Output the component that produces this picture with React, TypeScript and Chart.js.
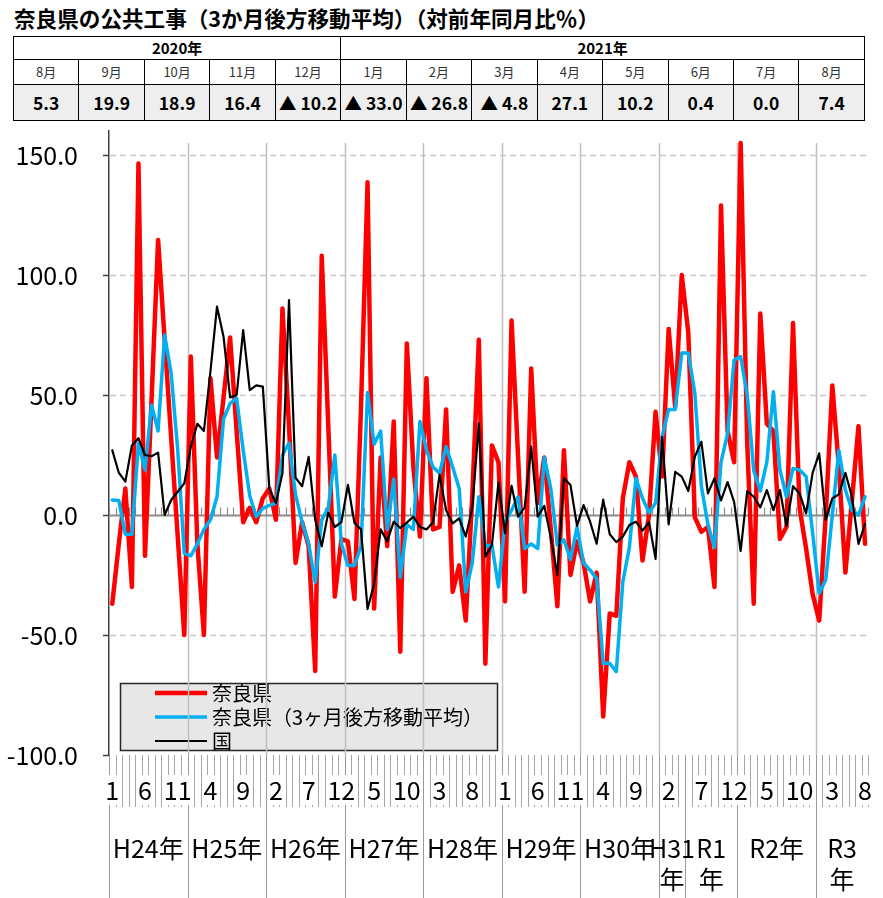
import React, { useEffect, useRef } from "react";
import { Chart, registerables } from "chart.js";
Chart.register(...registerables);

const JP = '"Noto Sans CJK JP", "Noto Sans", sans-serif';

// ---- table (top) ----
const TABLE_YEAR_LABELS = ["2020年", "2021年"];
const TABLE_YEAR_SPANS = [5, 8];
const TABLE_MONTHS = ["8月", "9月", "10月", "11月", "12月", "1月", "2月", "3月", "4月", "5月", "6月", "7月", "8月"];
const TABLE_VALUES = ["5.3", "19.9", "18.9", "16.4", "▲ 10.2", "▲ 33.0", "▲ 26.8", "▲ 4.8", "27.1", "10.2", "0.4", "0.0", "7.4"];

// ---- chart categories (2012/1 .. 2021/8) ----
const MONTH_LABELS = [
  "1", "2", "3", "4", "5", "6", "7", "8", "9", "10", "11", "12",
  "1", "2", "3", "4", "5", "6", "7", "8", "9", "10", "11", "12",
  "1", "2", "3", "4", "5", "6", "7", "8", "9", "10", "11", "12",
  "1", "2", "3", "4", "5", "6", "7", "8", "9", "10", "11", "12",
  "1", "2", "3", "4", "5", "6", "7", "8", "9", "10", "11", "12",
  "1", "2", "3", "4", "5", "6", "7", "8", "9", "10", "11", "12",
  "1", "2", "3", "4", "5", "6", "7", "8", "9", "10", "11", "12",
  "1", "2", "3", "4", "5", "6", "7", "8", "9", "10", "11", "12",
  "1", "2", "3", "4", "5", "6", "7", "8", "9", "10", "11", "12",
  "1", "2", "3", "4", "5", "6", "7", "8",
];

const YEAR_LABELS: string[][] = [
  ["H24年"], ["H25年"], ["H26年"], ["H27年"], ["H28年"], ["H29年"], ["H30年"],
  ["H31", "年"], ["R1", "年"], ["R2年"], ["R3", "年"],
];
const YEAR_STARTS = [0, 12, 24, 36, 48, 60, 72, 84, 88, 96, 108, 116];
const PLOT_YEAR_LINES = [12, 24, 36, 48, 60, 72, 84, 96, 108];

const Y_TICKS = [-100, -50, 0, 50, 100, 150];
const DASHED_GRID = [150, 100, 50, -50];

// ---- series ----
const NARA = [
  -37, -12, 11, -30, 146.5, -17, 48, 114.6, 73, 32, -9, -50,
  66, -12, -50, 57, 24, 49, 74, 35, -3, 3, -3, 7,
  11, -2, 86, 37, -20, -3, -13, -65, 108, 37, -34, -10,
  -11, -35, 45, 138.6, -39, 24, -13, 39, -57, 71.5, 20, -9,
  57, -6, -5, 44, -32, -21, -44, 8, 73, -62, 29, 22,
  -36, 81, 24, -32, 61, 5, 24, -6, -38, 27, -25, -11,
  -20, -36, -24, -84, -41, -42, 7, 22, 16, -19, 0, 43,
  16, 77.5, 45, 100, 76, -1, -7, -5, -30, 129, 35, 22,
  155, 30, -37, 84, 38, 35, -10, -5, 80, 3, -14, -33,
  -44, 0, 54, 20, -24, 6, 37, -12,
];
const NARA_MA3 = [
  6.25, 6, -8, -8, 30, 18.75, 45.8, 35, 75, 59, 27, -16,
  -17, -12, -6, -2, 7.6, 40, 46.5, 48.6, 27, 8, -0.7, 2.8,
  4, 5, 25, 30, 8.5, -3, -12, -28, -2, 3, 25, -12,
  -21, -21, -13, 51, 29.5, 35, -6, 15, -26, -4, -6, 39,
  27, 20, 17.4, 28.5, 20, 11, -32, -20, 7.6, -13, -12.5, -30,
  -3, 2, 7.6, -14, -12, -14, 24, 11, -12.5, -10.4, -18.5, -5,
  -20, -23, -26.5, -61.8, -61.8, -65.3, -27.8, -13.5, 15.3, 7, 1, 5,
  32.6, 44, 44, 67.5, 67.5, 50.7, 12, -4, -13.5, 22, 34, 64.6,
  66, 50, 18.5, 10, 22, 51.4, 18.75, 7.6, 19.4, 18.75, 16, -7.6,
  -32.6, -27, 0, 27, 10.4, 2, 0, 7.6,
];
const NATIONAL = [
  27, 17.6, 13.9, 29, 32, 25, 24.5, 26, 0, 6.25, 9.7, 13.2,
  28.5, 38, 35, 60, 86.8, 74.3, 49, 50, 77, 52, 54, 53.5,
  11, 5, 17.5, 89.5, 15.5, 12, 24.2, -2, -13, 1, -5, -3,
  12.6, -3.3, -6, -39.2, -28.7, -6, -11, -2.8, -5.4, -3.2, -0.7, -5,
  -6, -3, 16.7, 2, -3.5, -1.4, -9, 2.8, 38.2, -17.4, -12.5, 13.5,
  -7.6, 12.2, -0.7, 3.2, 28.5, -0.7, 3.8, -9.5, -25, 15.3, 12.5, -4.5,
  4.1, -2.8, -12, 6.4, -8, -11.3, -9, -4.2, -2.8, -6.5, -3, -18.3,
  32.6, -3.9, 18, 16, 10, 24.3, 30.5, 9, 15.3, 6.1, 13.7, 5.5,
  -15, 10, 7.6, 3.2, 10.4, 2, 10.4, -4.6, 12, 9, 0.7, 17.6,
  25.7, -2, 6.9, 8.6, 17.6, 7.6, -12, -3.75,
];

const SERIES_LABELS = ["奈良県", "奈良県（3ヶ月後方移動平均）", "国"];
const SERIES_COLORS = ["#ff0000", "#00b0f0", "#000000"];
const SERIES_WIDTHS = [4.5, 3.5, 2.2];

const CANVAS_TOP = 100;

function line(ctx: CanvasRenderingContext2D, x1: number, y1: number, x2: number, y2: number) {
  ctx.beginPath();
  ctx.moveTo(x1, y1);
  ctx.lineTo(x2, y2);
  ctx.stroke();
}

export default function App() {
  const ref = useRef<HTMLCanvasElement>(null);

  useEffect(() => {
    const canvas = ref.current;
    if (!canvas) return;
    const boundary = (x: any, k: number) => x.getPixelForValue(k - 0.5);

    const decor = {
      id: "decor",
      beforeDraw(chart: any) {
        const { ctx, chartArea: ca, scales } = chart;
        const x = scales.x;
        const bottom = chart.height;
        ctx.save();
        // comb of month ticks below the plot
        ctx.strokeStyle = "#a6a6a6";
        ctx.lineWidth = 1;
        for (let k = 0; k <= MONTH_LABELS.length; k++) {
          const px = Math.round(boundary(x, k)) + 0.5;
          line(ctx, px, ca.bottom, px, ca.bottom + 52);
        }
        // year separators in the label area
        ctx.strokeStyle = "#9a9a9a";
        for (let s = 0; s < YEAR_STARTS.length - 1; s++) {
          const px = Math.round(boundary(x, YEAR_STARTS[s])) + 0.5;
          line(ctx, px, ca.bottom, px, bottom);
        }
        ctx.restore();
      },
      beforeDatasetsDraw(chart: any) {
        const { ctx, chartArea: ca, scales } = chart;
        const x = scales.x;
        const y = scales.y;
        ctx.save();
        // short y tick marks
        ctx.strokeStyle = "#404040";
        ctx.lineWidth = 1.5;
        for (const v of Y_TICKS) {
          const py = Math.round(y.getPixelForValue(v)) + 0.5;
          line(ctx, ca.left - 6, py, ca.left, py);
        }
        // dashed horizontal grid
        ctx.strokeStyle = "#c9c9c9";
        ctx.lineWidth = 1.5;
        ctx.setLineDash([6, 4]);
        for (const v of DASHED_GRID) {
          const py = Math.round(y.getPixelForValue(v)) + 0.5;
          line(ctx, ca.left + 1, py, ca.right, py);
        }
        ctx.setLineDash([]);
        // legend box
        const lx = 120, ly = 683 - CANVAS_TOP, lw = 377, lh = 67;
        ctx.fillStyle = "#e7e7e7";
        ctx.fillRect(lx, ly, lw, lh);
        ctx.strokeStyle = "#262626";
        ctx.lineWidth = 1.5;
        ctx.strokeRect(lx + 0.5, ly + 0.5, lw, lh);
        chart.data.datasets.forEach((ds: any, i: number) => {
          const yy = ly + 10 + i * 24;
          ctx.strokeStyle = ds.borderColor;
          ctx.lineWidth = ds.borderWidth;
          line(ctx, 155, yy, 207, yy);
          ctx.fillStyle = "#000";
          ctx.font = `20px ${JP}`;
          ctx.textBaseline = "middle";
          ctx.textAlign = "left";
          ctx.fillText(ds.label, 212, yy);
        });
        // year lines in the plot
        ctx.strokeStyle = "#c0c0c0";
        ctx.lineWidth = 1.5;
        for (const k of PLOT_YEAR_LINES) {
          const px = Math.round(boundary(x, k)) + 0.5;
          line(ctx, px, ca.top + 12, px, ca.bottom);
        }
        // zero axis with month ticks
        const y0 = Math.round(y.getPixelForValue(0)) + 0.5;
        ctx.strokeStyle = "#8c8c8c";
        ctx.lineWidth = 2;
        line(ctx, ca.left, y0, ca.right, y0);
        ctx.lineWidth = 1.2;
        for (let k = 0; k <= MONTH_LABELS.length; k++) {
          const px = Math.round(boundary(x, k)) + 0.5;
          line(ctx, px, y0, px, y0 - 8);
        }
        ctx.restore();
      },
      afterDraw(chart: any) {
        const { ctx, scales } = chart;
        const x = scales.x;
        ctx.save();
        ctx.fillStyle = "#000";
        ctx.font = `25px ${JP}`;
        ctx.textAlign = "center";
        ctx.textBaseline = "middle";
        for (let s = 0; s < YEAR_LABELS.length; s++) {
          const cx = (boundary(x, YEAR_STARTS[s]) + boundary(x, YEAR_STARTS[s + 1])) / 2;
          const lines = YEAR_LABELS[s];
          lines.forEach((t, j) => {
            ctx.fillText(t, cx, 848 - CANVAS_TOP + j * 31);
          });
        }
        ctx.restore();
      },
    };

    const chart = new Chart(canvas, {
      type: "line",
      data: {
        labels: MONTH_LABELS,
        datasets: [
          { label: SERIES_LABELS[0], data: NARA, borderColor: SERIES_COLORS[0], borderWidth: SERIES_WIDTHS[0], order: 3 },
          { label: SERIES_LABELS[1], data: NARA_MA3, borderColor: SERIES_COLORS[1], borderWidth: SERIES_WIDTHS[1], order: 2 },
          { label: SERIES_LABELS[2], data: NATIONAL, borderColor: SERIES_COLORS[2], borderWidth: SERIES_WIDTHS[2], order: 1 },
        ].map((d) => ({ ...d, pointRadius: 0, tension: 0, fill: false, borderJoinStyle: "round" as const, borderCapStyle: "round" as const })),
      },
      options: {
        animation: false,
        responsive: false,
        maintainAspectRatio: false,
        layout: { padding: { top: 31, right: 14.7, left: 0, bottom: 0 } },
        plugins: { legend: { display: false }, tooltip: { enabled: false } },
        scales: {
          x: {
            type: "category",
            offset: true,
            grid: { display: false, drawTicks: true, tickLength: 20 },
            border: { display: false },
            afterFit: (s: any) => { s.height = 143; },
            ticks: {
              autoSkip: false,
              maxRotation: 0,
              minRotation: 0,
              padding: 0,
              color: "#000",
              font: { family: JP, size: 25 },
              showLabelBackdrop: true,
              backdropColor: "#ffffff",
              backdropPadding: 0,
              callback: (_v: any, i: number) => (i % 5 === 0 ? MONTH_LABELS[i] : ""),
            } as any,
          },
          y: {
            min: -100,
            max: 160,
            afterBuildTicks: (s: any) => { s.ticks = Y_TICKS.map((v) => ({ value: v })); },
            afterFit: (s: any) => { s.width = 109; },
            grid: { display: true, drawOnChartArea: false, drawTicks: true, tickLength: 31, tickColor: "rgba(0,0,0,0)", tickWidth: 1 },
            border: { display: true, color: "#404040", width: 1.5 },
            ticks: {
              padding: 0,
              color: "#000",
              font: { family: JP, size: 25 },
              callback: (v: any) => Number(v).toFixed(1),
            },
          },
        },
      },
      plugins: [decor],
    });
    return () => chart.destroy();
  }, []);

  const cellBorder = "1px solid #000";
  return (
    <div style={{ position: "absolute", left: 0, top: 0, width: 883, height: 898, background: "#fff", overflow: "hidden", fontFamily: JP }}>
      <div style={{ position: "absolute", left: 14, top: 6, height: 24, lineHeight: "24px", fontSize: 21.6, fontWeight: 700, whiteSpace: "nowrap", color: "#000" }}>
        奈良県の公共工事（3か月後方移動平均）（対前年同月比％）
      </div>
      <table style={{ position: "absolute", left: 13, top: 36, width: 852, borderCollapse: "collapse", tableLayout: "fixed", border: "1.5px solid #000" }}>
        <tbody>
          <tr style={{ height: 23 }}>
            {TABLE_YEAR_LABELS.map((t, i) => (
              <td key={i} colSpan={TABLE_YEAR_SPANS[i]} style={{ border: cellBorder, textAlign: "center", fontWeight: 700, fontSize: 15, padding: 0, lineHeight: "20px" }}>{t}</td>
            ))}
          </tr>
          <tr style={{ height: 25 }}>
            {TABLE_MONTHS.map((t, i) => (
              <td key={i} style={{ border: cellBorder, textAlign: "center", fontSize: 13, color: "#333", padding: 0, lineHeight: "22px" }}>{t}</td>
            ))}
          </tr>
          <tr style={{ height: 36 }}>
            {TABLE_VALUES.map((t, i) => (
              <td key={i} style={{ border: cellBorder, textAlign: "center", fontSize: 17.5, fontWeight: 700, background: "#eeeeee", padding: 0, lineHeight: "32px", whiteSpace: "nowrap" }}>{t}</td>
            ))}
          </tr>
        </tbody>
      </table>
      <canvas ref={ref} width={883} height={898 - CANVAS_TOP} style={{ position: "absolute", left: 0, top: CANVAS_TOP, width: 883, height: 898 - CANVAS_TOP, display: "block" }} />
    </div>
  );
}
